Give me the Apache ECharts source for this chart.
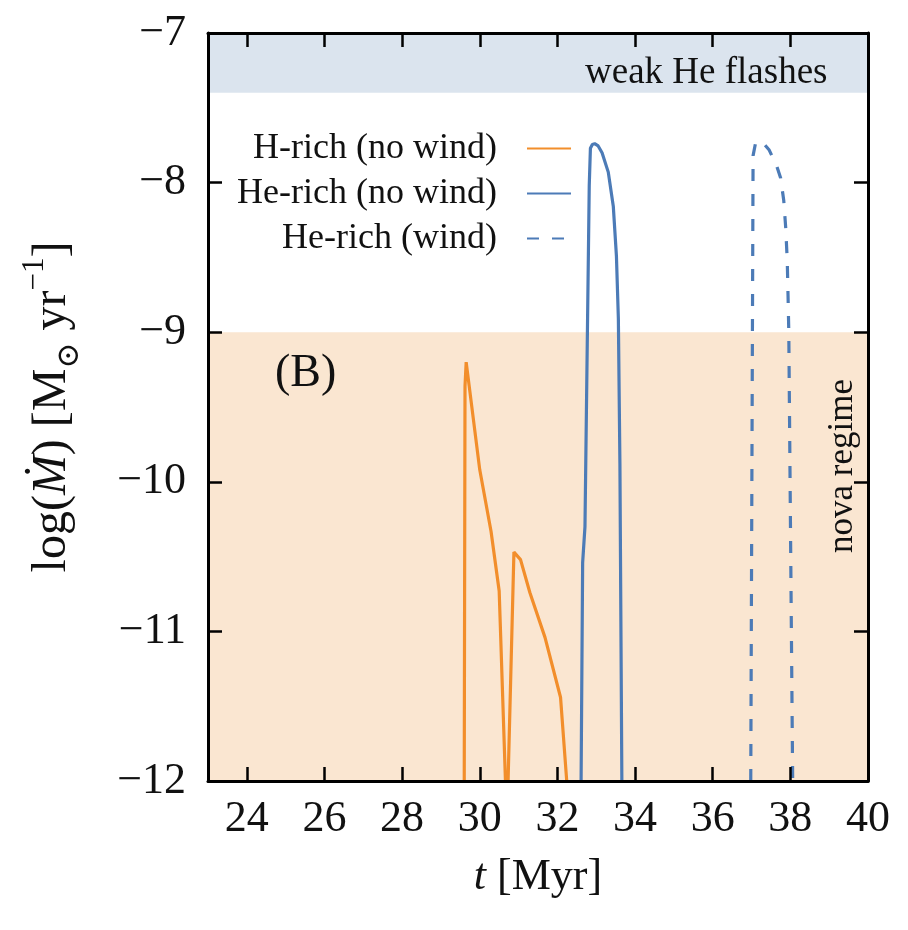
<!DOCTYPE html>
<html>
<head>
<meta charset="utf-8">
<script src="https://cdn.jsdelivr.net/npm/echarts@6/dist/echarts.min.js"></script>
<style>
html,body{margin:0;padding:0;background:#fff;}
#chart{width:908px;height:930px;}
</style>
</head>
<body>
<div id="chart"></div>
<script>
// ---- data ----
const hRichT = [29.60, 29.62, 29.65, 30.00, 30.29, 30.50, 30.70, 30.88, 31.05, 31.29, 31.68, 32.08, 32.24];
const hRichLogMdot = [-12, -9.36, -9.20, -9.92, -10.33, -10.73, -12.3, -10.47, -10.52, -10.74, -11.04, -11.44, -12];

const heRichT = [32.61, 32.65, 32.71, 32.82, 32.85, 32.90, 32.96, 33.05, 33.15, 33.31, 33.44, 33.52, 33.57, 33.61, 33.66];
const heRichLogMdot = [-12, -10.54, -10.30, -8.02, -7.77, -7.745, -7.74, -7.755, -7.80, -7.93, -8.16, -8.49, -8.91, -9.88, -12];

const heWindT = [36.98, 37.04, 37.10, 37.25, 37.45, 37.65, 37.75, 37.83, 37.88, 37.92, 37.94, 37.96, 38.01, 38.06];
const heWindLogMdot = [-12, -7.82, -7.74, -7.72, -7.78, -7.89, -7.97, -8.12, -8.30, -8.52, -8.75, -9.0, -10.5, -12];

const seriesNames = ['H-rich (no wind)', 'He-rich (no wind)', 'He-rich (wind)'];
const xTickValues = [24, 26, 28, 30, 32, 34, 36, 38, 40];
const weakHeBand = [-7.4, -7];
const novaBand = [-12, -9];

const FONT = 'Liberation Serif';
const ORANGE = '#f28e2b';
const BLUE = '#4c7bb7';

const pairs = (xs, ys) => xs.map((x, i) => [x, ys[i]]);
const minus = v => String(v).replace('-', '\u2212');

const chart = echarts.init(document.getElementById('chart'));

const axisLine = {show: true, lineStyle: {color: '#000', width: 3}};
const tick = {show: true, inside: true, length: 14, lineStyle: {color: '#000', width: 2.5}};

chart.setOption({
  animation: false,
  grid: {left: 208, right: 40, top: 33, bottom: 149, containLabel: false},
  legend: {
    data: seriesNames,
    orient: 'vertical',
    align: 'right',
    right: 331,
    top: 121,
    itemWidth: 44,
    itemHeight: 2,
    itemGap: 0,
    itemStyle: {opacity: 0},
    textStyle: {fontFamily: FONT, fontSize: 36, color: '#111', lineHeight: 45, padding: [0, 25, 0, 0]}
  },
  xAxis: [{
    type: 'value', min: 23, max: 40, position: 'bottom', z: 10,
    axisLine: axisLine,
    axisTick: Object.assign({customValues: xTickValues}, tick),
    axisLabel: {customValues: xTickValues, fontFamily: FONT, fontSize: 44, color: '#111', margin: 16},
    splitLine: {show: false},
    name: '{i|t} [Myr]', nameLocation: 'middle', nameGap: 74,
    nameTextStyle: {fontFamily: FONT, fontSize: 44, color: '#111',
      rich: {i: {fontFamily: FONT, fontStyle: 'italic', fontSize: 44, color: '#111'}}}
  }, {
    type: 'value', min: 23, max: 40, position: 'top', z: 10,
    axisLine: axisLine,
    axisTick: Object.assign({customValues: xTickValues}, tick),
    axisLabel: {show: false},
    splitLine: {show: false}
  }],
  yAxis: [{
    type: 'value', min: -12, max: -7, interval: 1, position: 'left', z: 10,
    axisLine: axisLine, axisTick: tick,
    axisLabel: {fontFamily: FONT, fontSize: 44, color: '#111', margin: 22, formatter: minus},
    splitLine: {show: false},
    name: 'log({i|\u1E40}) [M{sub|\u2299} yr{sup|\u22121}]',
    nameLocation: 'middle', nameGap: 123, nameRotate: 90,
    nameTextStyle: {fontFamily: FONT, fontSize: 48, color: '#111',
      rich: {
        i: {fontFamily: FONT, fontStyle: 'italic', fontSize: 48, color: '#111'},
        sub: {fontFamily: 'DejaVu Serif', fontSize: 31, color: '#111', verticalAlign: 'bottom', lineHeight: 46},
        sup: {fontFamily: FONT, fontSize: 31, color: '#111', verticalAlign: 'top', lineHeight: 66}
      }}
  }, {
    type: 'value', min: -12, max: -7, interval: 1, position: 'right', z: 10,
    axisLine: axisLine, axisTick: tick,
    axisLabel: {show: false}, splitLine: {show: false}
  }],
  series: [{
    type: 'line', name: '__bands', data: [], z: 1, silent: true,
    markArea: {
      silent: true,
      data: [
        [{yAxis: weakHeBand[0], itemStyle: {color: '#dbe4ee'}}, {yAxis: weakHeBand[1]}],
        [{yAxis: novaBand[0], itemStyle: {color: '#fae6d1'}}, {yAxis: novaBand[1]}]
      ]
    }
  }, {
    type: 'line', name: seriesNames[0], data: pairs(hRichT, hRichLogMdot),
    symbol: 'none', showSymbol: false, clip: true, z: 3,
    lineStyle: {color: ORANGE, width: 3.2}, itemStyle: {color: ORANGE}
  }, {
    type: 'line', name: seriesNames[1], data: pairs(heRichT, heRichLogMdot),
    symbol: 'none', showSymbol: false, clip: true, z: 3,
    lineStyle: {color: BLUE, width: 3.2}, itemStyle: {color: BLUE}
  }, {
    type: 'line', name: seriesNames[2], data: pairs(heWindT, heWindLogMdot),
    symbol: 'none', showSymbol: false, clip: true, z: 3,
    lineStyle: {color: BLUE, width: 3.2, type: [12, 13]}, itemStyle: {color: BLUE}
  }],
  graphic: [
    {type: 'text', x: 585, y: 73, z: 10,
      style: {text: 'weak He flashes', font: '37px "Liberation Serif"', fill: '#111', align: 'left', verticalAlign: 'middle'}},
    {type: 'text', x: 275, y: 374, z: 10,
      style: {text: '(B)', font: '46px "Liberation Serif"', fill: '#111', align: 'left', verticalAlign: 'middle'}},
    {type: 'text', x: 843, y: 466, rotation: Math.PI / 2, z: 10,
      style: {text: 'nova regime', font: '35px "Liberation Serif"', fill: '#111', align: 'center', verticalAlign: 'middle'}}
  ]
});
</script>
</body>
</html>
